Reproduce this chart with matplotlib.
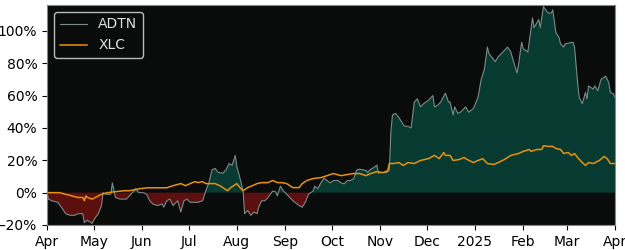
import numpy as np
import pandas as pd
import matplotlib
matplotlib.use("Agg")
import matplotlib.pyplot as plt
import matplotlib.dates as mdates
import matplotlib.ticker as mtick

# cumulative return (%)
adtn_dates = [
    "2024-04-01", "2024-04-02", "2024-04-04", "2024-04-08", "2024-04-11", "2024-04-13",
    "2024-04-16", "2024-04-19", "2024-04-21", "2024-04-24", "2024-04-25", "2024-04-27",
    "2024-04-30", "2024-05-02", "2024-05-04", "2024-05-06", "2024-05-07", "2024-05-09",
    "2024-05-12", "2024-05-13", "2024-05-15", "2024-05-18", "2024-05-22", "2024-05-24",
    "2024-05-28", "2024-05-30", "2024-06-02", "2024-06-04", "2024-06-06", "2024-06-08",
    "2024-06-11", "2024-06-14", "2024-06-15", "2024-06-17", "2024-06-19", "2024-06-21",
    "2024-06-24", "2024-06-26", "2024-06-28", "2024-06-30", "2024-07-02", "2024-07-04",
    "2024-07-07", "2024-07-10", "2024-07-12", "2024-07-14", "2024-07-16", "2024-07-18",
    "2024-07-20", "2024-07-23", "2024-07-25", "2024-07-27", "2024-07-29", "2024-07-31",
    "2024-08-01", "2024-08-03", "2024-08-05", "2024-08-06", "2024-08-08", "2024-08-10",
    "2024-08-12", "2024-08-14", "2024-08-15", "2024-08-17", "2024-08-19", "2024-08-21",
    "2024-08-24", "2024-08-26", "2024-08-27", "2024-08-29", "2024-08-31", "2024-09-02",
    "2024-09-04", "2024-09-06", "2024-09-10", "2024-09-12", "2024-09-14", "2024-09-16",
    "2024-09-19", "2024-09-20", "2024-09-22", "2024-09-24", "2024-09-26", "2024-09-28",
    "2024-09-30", "2024-10-02", "2024-10-05", "2024-10-07", "2024-10-09", "2024-10-11",
    "2024-10-13", "2024-10-15", "2024-10-17", "2024-10-19", "2024-10-23", "2024-10-24",
    "2024-10-26", "2024-10-28", "2024-10-30", "2024-10-31", "2024-11-01", "2024-11-05",
    "2024-11-07", "2024-11-08", "2024-11-09", "2024-11-11", "2024-11-13", "2024-11-16",
    "2024-11-17", "2024-11-19", "2024-11-21", "2024-11-23", "2024-11-25", "2024-11-27",
    "2024-11-29", "2024-12-02", "2024-12-05", "2024-12-06", "2024-12-08", "2024-12-10",
    "2024-12-13", "2024-12-15", "2024-12-16", "2024-12-18", "2024-12-19", "2024-12-21",
    "2024-12-23", "2024-12-26", "2024-12-28", "2024-12-31", "2025-01-03", "2025-01-05",
    "2025-01-07", "2025-01-09", "2025-01-10", "2025-01-14", "2025-01-16", "2025-01-22",
    "2025-01-24", "2025-01-28", "2025-01-29", "2025-01-31", "2025-02-01", "2025-02-04",
    "2025-02-07", "2025-02-08", "2025-02-11", "2025-02-12", "2025-02-14", "2025-02-17",
    "2025-02-19", "2025-02-20", "2025-02-22", "2025-02-24", "2025-02-25", "2025-02-27",
    "2025-02-28", "2025-03-05", "2025-03-06", "2025-03-08", "2025-03-09", "2025-03-11",
    "2025-03-13", "2025-03-14", "2025-03-15", "2025-03-18", "2025-03-19", "2025-03-21",
    "2025-03-23", "2025-03-26", "2025-03-28", "2025-03-29", "2025-03-31", "2025-04-01",
]
adtn_values = [
    0, -4, -5, -6, -10, -13,
    -14, -14, -13, -13, -18.6, -17,
    -19, -15.5, -13, -8, 0, -1,
    -1, 6, -3, -4, -4, -2,
    2.5, 0, 0, -1, -5, -7,
    -8, -7, -9, -5, -4, -8,
    -5, -12, -5, -4, -6, -6,
    -6, -5, 1, 6, 14, 15,
    12.5, 12, 14, 18, 17, 23,
    16, 9, 1, -13, -11, -14,
    -12, -13, -9, -5, -5, -3,
    1, 0.5, -2, 4, 1, -1,
    -3, -5, -8, -9, -6, -1,
    1, 4, 2.5, 6, 9, 7.5,
    6, 7.5, 7.5, 6, 5.5, 7.5,
    7.5, 8.5, 14, 14.5, 13.7, 12.4,
    14.5, 15.5, 17, 11.8, 12.4, 12.4,
    13.7, 38, 48, 49, 46.6, 42,
    41, 41, 40, 56, 58, 53,
    55, 57, 60, 53, 54, 56,
    61.5, 56, 56, 48, 53, 49,
    50, 53, 49.7, 52, 59, 70,
    76, 90, 86, 81, 84, 90,
    87, 74, 79, 93, 89, 87,
    108, 102, 107, 102, 115, 111,
    111, 113, 99, 96, 92, 90,
    92, 93, 90, 67.6, 59, 55,
    62, 58, 66, 64, 66, 63,
    70, 72, 68, 62, 61, 59,
]

xlc_dates = [
    "2024-04-01", "2024-04-09", "2024-04-13", "2024-04-17", "2024-04-21", "2024-04-24",
    "2024-04-25", "2024-04-26", "2024-04-27", "2024-04-30", "2024-05-02", "2024-05-04",
    "2024-05-06", "2024-05-10", "2024-05-15", "2024-05-21", "2024-05-24", "2024-05-31",
    "2024-06-05", "2024-06-08", "2024-06-13", "2024-06-17", "2024-06-21", "2024-06-26",
    "2024-06-29", "2024-07-02", "2024-07-05", "2024-07-07", "2024-07-10", "2024-07-12",
    "2024-07-15", "2024-07-18", "2024-07-21", "2024-07-23", "2024-07-26", "2024-07-28",
    "2024-07-30", "2024-08-01", "2024-08-03", "2024-08-05", "2024-08-08", "2024-08-11",
    "2024-08-14", "2024-08-17", "2024-08-21", "2024-08-24", "2024-08-27", "2024-08-30",
    "2024-09-02", "2024-09-06", "2024-09-10", "2024-09-12", "2024-09-15", "2024-09-19",
    "2024-09-24", "2024-09-28", "2024-10-02", "2024-10-07", "2024-10-11", "2024-10-15",
    "2024-10-19", "2024-10-23", "2024-10-26", "2024-10-30", "2024-11-03", "2024-11-06",
    "2024-11-07", "2024-11-10", "2024-11-13", "2024-11-16", "2024-11-19", "2024-11-23",
    "2024-11-27", "2024-12-02", "2024-12-06", "2024-12-08", "2024-12-09", "2024-12-12",
    "2024-12-13", "2024-12-16", "2024-12-18", "2024-12-22", "2024-12-25", "2024-12-27",
    "2024-12-31", "2025-01-03", "2025-01-06", "2025-01-09", "2025-01-13", "2025-01-16",
    "2025-01-20", "2025-01-24", "2025-01-29", "2025-02-01", "2025-02-05", "2025-02-06",
    "2025-02-10", "2025-02-13", "2025-02-14", "2025-02-17", "2025-02-20", "2025-02-22",
    "2025-02-25", "2025-02-27", "2025-03-02", "2025-03-04", "2025-03-06", "2025-03-08",
    "2025-03-11", "2025-03-13", "2025-03-15", "2025-03-18", "2025-03-22", "2025-03-25",
    "2025-03-27", "2025-03-29", "2025-04-01",
]
xlc_values = [
    0, 0, -1, -2, -3, -3,
    -5, -2, -3, -4, -3, -2,
    -1, 0, 0.6, 1.2, 1.2, 2.5,
    3, 3, 3, 3, 4.3, 5.6,
    4.3, 5.6, 6.8, 6.2, 6.8, 5.6,
    5.6, 5.6, 4.3, 3.1, 1.2, 3.1,
    4.3, 5.6, 3.1, 1.2, 3.1, 4.3,
    5.6, 6.2, 6.2, 7.5, 6.2, 6.2,
    5.6, 3.1, 3.1, 5.6, 7.5, 8.7,
    9.3, 10.5, 11.8, 10.5, 11.2, 11.8,
    11.8, 10.5, 11.8, 13, 12.4, 13.7,
    18, 18, 18.6, 16.8, 18.6, 18,
    19.9, 21, 23, 21.7, 21, 24.8,
    23, 23, 19.9, 20.5, 21.7, 20.5,
    18.6, 19.9, 21, 18, 17.4, 18.6,
    20.5, 23, 24.2, 25.5, 26.7, 25.5,
    26.7, 26.7, 29, 28.6, 28.6, 27.3,
    26.7, 24.2, 24.8, 23, 24.2, 21.7,
    18.6, 16.8, 18.6, 18, 19.9, 22.4,
    21, 18, 18,
]

adtn_x = pd.to_datetime(adtn_dates)
adtn_y = np.array(adtn_values, dtype=float)
xlc_x = pd.to_datetime(xlc_dates)
xlc_y = np.array(xlc_values, dtype=float)

fig = plt.figure(figsize=(6.25, 2.5), dpi=100)
ax = fig.add_axes([0.0752, 0.1, 0.9088, 0.88])
ax.set_facecolor("#0a0b0b")

ax.fill_between(adtn_x, 0, adtn_y, where=adtn_y >= 0, interpolate=True,
                color="#073a31", linewidth=0)
ax.fill_between(adtn_x, 0, adtn_y, where=adtn_y < 0, interpolate=True,
                color="#5b0f0e", linewidth=0)
ax.plot(adtn_x, adtn_y, color="#7d8a88", linewidth=0.8, label="ADTN")
ax.plot(xlc_x, xlc_y, color="#e8920e", linewidth=1.1, label="XLC")

ax.set_xlim(pd.Timestamp("2024-04-01"), pd.Timestamp("2025-04-01"))
ax.set_ylim(-20, 116)
ax.yaxis.set_major_locator(mtick.MultipleLocator(20))
ax.yaxis.set_major_formatter(mtick.PercentFormatter(decimals=0))

ax.xaxis.set_major_locator(mdates.MonthLocator())


def month_label(x, pos):
    d = mdates.num2date(x)
    return str(d.year) if d.month == 1 else d.strftime("%b")


ax.xaxis.set_major_formatter(mtick.FuncFormatter(month_label))
ax.tick_params(labelsize=10)

for s in ax.spines.values():
    s.set_color("#888888")
    s.set_linewidth(0.8)

leg = ax.legend(loc="upper left", frameon=True, fontsize=10, facecolor="#0a0b0b",
                edgecolor="#bbbbbb", framealpha=1.0)
for t in leg.get_texts():
    t.set_color("#e0e0e0")

fig.savefig("out.png", dpi=100, facecolor="white")
